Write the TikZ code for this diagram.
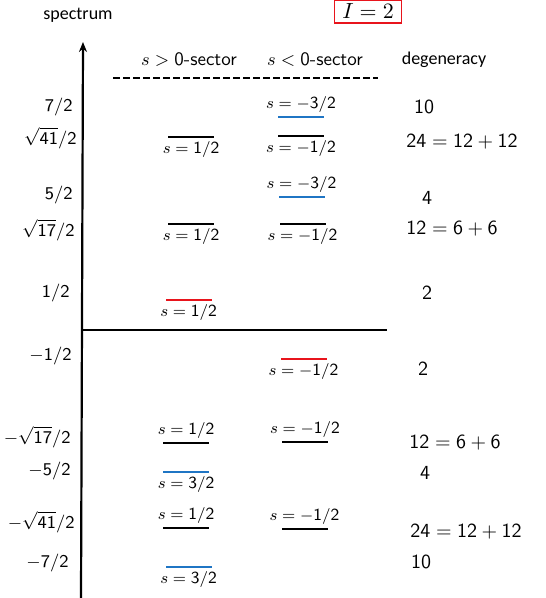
\documentclass[tikz,border=0pt]{standalone}
\definecolor{lvBlue}{HTML}{1F75C4}
\definecolor{lvRed}{HTML}{E8141C}
\usepackage{fontspec}
\newfontfamily\calib{Carlito}
\usepackage{tikz}
\usetikzlibrary{positioning,arrows.meta}
\newcommand{\nm}[1]{\mathsf{#1}}
\newcommand{\lvl}[6]{%
 \node[lvlbar, fill=#4] (#3) at (#1,#2) {};%
 \node[lvltext, #6=0.8pt of #3] (#3s) {#5};}
\tikzset{
 lvlbar/.style={minimum width=23pt, minimum height=1.4pt, inner sep=0pt, outer sep=0pt},
 lvltext/.style={inner sep=0.5pt, font=\fontsize{8.5}{10}\selectfont},
 enlab/.style={anchor=east, inner sep=0pt, font=\fontsize{9}{11}\selectfont},
 deglab/.style={inner sep=0pt, font=\fontsize{10}{12}\selectfont},
}

\begin{document}
\begin{tikzpicture}[x=0.5pt,y=-0.5pt]
\useasboundingbox (0,0) rectangle (545,598);
\node[font=\calib\fontsize{9}{11}\selectfont] (spec) at (78,15) {spectrum};
\node[draw=lvRed, line width=0.6pt, minimum width=33.5pt, minimum height=11.5pt, inner sep=0pt, font=\fontsize{11}{13}\selectfont] (iso) at (368,11.5) {$I=2$};
\node[font=\fontsize{9.5}{11}\selectfont] (secp) at (189,60) {$s>\nm{0}$\textsf{-sector}};
\node[font=\fontsize{9.5}{11}\selectfont] (secm) at (315,60) {$s<\nm{0}$\textsf{-sector}};
\node[font=\calib\fontsize{9}{11}\selectfont] (deg) at (444,60) {degeneracy};
% axes
\coordinate (ybot) at (81,598);
\coordinate (ytop) at (83,42);
\draw[line width=1.1pt, -{Stealth[length=5pt,width=4pt]}] (ybot) -- (ytop);
\coordinate (zl) at (82,330);
\coordinate (zr) at (387,330);
\draw[line width=1.1pt] (zl) -- (zr);
\coordinate (dl) at (113,78);
\coordinate (dr) at (378,78);
\draw[line width=1.2pt, dash pattern=on 3.5pt off 1.5pt] (dl) -- (dr);
% energies
\node[enlab] (e1) at (73,107) {$\nm{7/2}$};
\node[enlab] (e2) at (77,138) {$\sqrt{\nm{41}}/\nm{2}$};
\node[enlab] (e3) at (73,195) {$\nm{5/2}$};
\node[enlab] (e4) at (75,230) {$\sqrt{\nm{17}}/\nm{2}$};
\node[enlab] (e5) at (70,293) {$\nm{1/2}$};
\node[enlab] (e6) at (72,356) {$-\nm{1/2}$};
\node[enlab] (e7) at (71,437) {$-\sqrt{\nm{17}}/\nm{2}$};
\node[enlab] (e8) at (71,471) {$-\nm{5/2}$};
\node[enlab] (e9) at (75,522) {$-\sqrt{\nm{41}}/\nm{2}$};
\node[enlab] (e10) at (69,563) {$-\nm{7/2}$};
% levels
\lvl{301}{117}{b1}{lvBlue}{$s=-\nm{3/2}$}{above}
\lvl{191}{137}{a2}{black}{$s=\nm{1/2}$}{below}
\lvl{301}{136}{b2}{black}{$s=-\nm{1/2}$}{below}
\lvl{301.5}{197}{b3}{lvBlue}{$s=-\nm{3/2}$}{above}
\lvl{191}{224}{a4}{black}{$s=\nm{1/2}$}{below}
\lvl{302.5}{224}{b4}{black}{$s=-\nm{1/2}$}{below}
\lvl{188.5}{300}{a5}{lvRed}{$s=\nm{1/2}$}{below}
\lvl{303.5}{359}{b6}{lvRed}{$s=-\nm{1/2}$}{below}
\lvl{186}{443}{a7}{black}{$s=\nm{1/2}$}{above}
\lvl{305}{442}{b7}{black}{$s=-\nm{1/2}$}{above}
\lvl{186}{472}{a8}{lvBlue}{$s=\nm{3/2}$}{below}
\lvl{186}{528}{a9}{black}{$s=\nm{1/2}$}{above}
\lvl{304.5}{529}{b9}{black}{$s=-\nm{1/2}$}{above}
\lvl{188.5}{567}{a10}{lvBlue}{$s=\nm{3/2}$}{below}
% degeneracies
\node[deglab] (d1) at (424,107) {$\nm{10}$};
\node[deglab] (d2) at (462,142) {$\nm{24}=\nm{12}+\nm{12}$};
\node[deglab] (d3) at (427,198) {$\nm{4}$};
\node[deglab] (d4) at (452,229) {$\nm{12}=\nm{6}+\nm{6}$};
\node[deglab] (d5) at (427,293) {$\nm{2}$};
\node[deglab] (d6) at (423,369) {$\nm{2}$};
\node[deglab] (d7) at (455,443) {$\nm{12}=\nm{6}+\nm{6}$};
\node[deglab] (d8) at (425,473) {$\nm{4}$};
\node[deglab] (d9) at (466,532) {$\nm{24}=\nm{12}+\nm{12}$};
\node[deglab] (d10) at (421,562) {$\nm{10}$};
\end{tikzpicture}
\end{document}
